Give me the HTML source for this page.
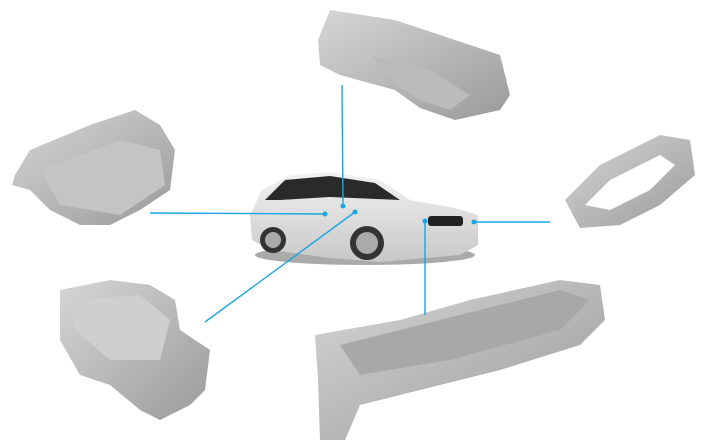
<!DOCTYPE html>
<html><head><style>body{margin:0;background:#fff}svg{display:block}</style></head><body>
<svg width="709" height="447" viewBox="0 0 709 447" xmlns="http://www.w3.org/2000/svg">
<defs>
<linearGradient id="g" x1="0" y1="0" x2="1" y2="1"><stop offset="0" stop-color="#d6d6d6"/><stop offset="1" stop-color="#9a9a9a"/></linearGradient>
<linearGradient id="c" x1="0" y1="0" x2="0" y2="1"><stop offset="0" stop-color="#f2f2f2"/><stop offset="1" stop-color="#c8c8c8"/></linearGradient>
</defs>
<!-- top part -->
<polygon points="330,10 395,20 500,55 510,95 500,110 455,120 420,108 395,90 340,75 320,65 318,40" fill="url(#g)"/>
<polygon points="370,55 430,70 470,95 450,110 420,100 395,85" fill="#bbb"/>
<!-- left top part -->
<polygon points="30,150 90,125 135,110 160,125 175,150 170,190 140,210 110,225 80,225 50,210 30,190 12,185 15,175" fill="url(#g)"/>
<polygon points="40,170 120,140 160,150 165,185 120,215 60,205" fill="#c4c4c4"/>
<!-- right part -->
<path d="M565,200 L600,165 L660,135 L690,140 L695,175 L660,205 L620,225 L580,228 Z M585,205 L610,180 L660,155 L675,165 L650,190 L610,210 Z" fill="url(#g)" fill-rule="evenodd"/>
<!-- bottom left part -->
<polygon points="60,290 110,280 150,285 175,300 180,330 210,350 205,390 190,405 160,420 140,410 110,385 80,375 60,340" fill="url(#g)"/>
<polygon points="70,300 140,295 170,320 160,360 110,360 75,330" fill="#cfcfcf"/>
<!-- bottom right part -->
<polygon points="315,335 400,320 470,300 560,280 600,285 605,320 580,345 500,370 440,385 400,395 360,405 345,440 320,440 318,380" fill="url(#g)"/>
<polygon points="340,345 560,290 590,300 560,330 450,360 360,375" fill="#a8a8a8"/>
<!-- car -->
<ellipse cx="365" cy="255" rx="110" ry="10" fill="#555" opacity="0.5"/>
<path d="M250,215 L262,190 L290,175 L330,172 L380,180 L410,200 L455,208 L478,215 L478,245 L460,255 L380,262 L330,258 L270,250 L252,240 Z" fill="url(#c)"/>
<path d="M265,200 L285,180 L330,176 L375,183 L400,200 L330,197 L280,200 Z" fill="#2a2a2a"/>
<rect x="428" y="216" width="35" height="10" rx="3" fill="#222"/>
<circle cx="273" cy="240" r="13" fill="#333"/><circle cx="273" cy="240" r="8" fill="#aaa"/>
<circle cx="367" cy="243" r="17" fill="#333"/><circle cx="367" cy="243" r="11" fill="#aaa"/>
<!-- lines -->
<g stroke="#1aa6e0" stroke-width="1.4" fill="none">
<line x1="342" y1="85" x2="343" y2="206"/>
<line x1="150" y1="213" x2="325" y2="214"/>
<line x1="205" y1="322" x2="355" y2="212"/>
<line x1="474" y1="222" x2="550" y2="222"/>
<line x1="425" y1="221" x2="425" y2="315"/>
</g>
<g fill="#1aa6e0">
<circle cx="325" cy="214" r="2.5"/><circle cx="343" cy="206" r="2.5"/><circle cx="355" cy="212" r="2.5"/><circle cx="425" cy="221" r="2.5"/><circle cx="474" cy="222" r="2.5"/>
</g>
</svg>
</body></html>
